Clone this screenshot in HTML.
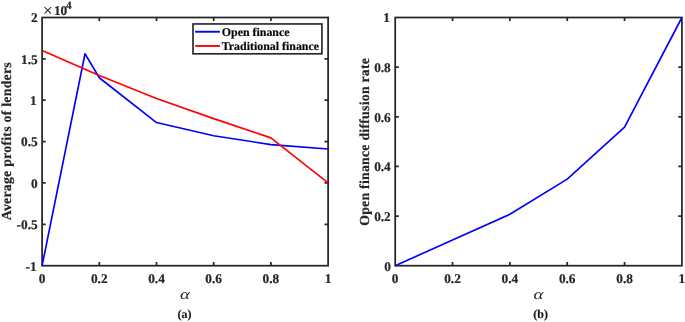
<!DOCTYPE html>
<html><head><meta charset="utf-8"><title>Figure</title>
<style>
html,body{margin:0;padding:0;background:#fff;}
svg{display:block;}
text{text-rendering:geometricPrecision;font-family:"Liberation Serif","Times New Roman",serif;font-weight:bold;fill:#262626;stroke:#262626;stroke-width:0.2px;}
.tk{font-size:13.33px;}
.lb{font-size:13.8px;}
.lg{font-size:11.9px;fill:#000;}
.cap{font-size:12px;fill:#1a1a1a;}
.al{font-size:14.67px;font-style:italic;font-weight:normal;stroke:none;}
</style></head><body>
<svg width="685" height="322" viewBox="0 0 685 322">
<rect width="685" height="322" fill="#fff"/>

<g stroke="#262626" stroke-width="1.75" fill="none" stroke-linecap="butt"><rect x="42.10" y="17.50" width="286.00" height="248.20"/><path d="M99.30 265.70v-3.60 M99.30 17.50v3.60"/><path d="M156.50 265.70v-3.60 M156.50 17.50v3.60"/><path d="M213.70 265.70v-3.60 M213.70 17.50v3.60"/><path d="M270.90 265.70v-3.60 M270.90 17.50v3.60"/><path d="M42.10 58.87h3.60 M328.10 58.87h-3.60"/><path d="M42.10 100.23h3.60 M328.10 100.23h-3.60"/><path d="M42.10 141.60h3.60 M328.10 141.60h-3.60"/><path d="M42.10 182.97h3.60 M328.10 182.97h-3.60"/><path d="M42.10 224.33h3.60 M328.10 224.33h-3.60"/></g>

<g stroke="#262626" stroke-width="1.75" fill="none" stroke-linecap="butt"><rect x="395.20" y="17.50" width="286.70" height="248.20"/><path d="M452.54 265.70v-3.60 M452.54 17.50v3.60"/><path d="M509.88 265.70v-3.60 M509.88 17.50v3.60"/><path d="M567.22 265.70v-3.60 M567.22 17.50v3.60"/><path d="M624.56 265.70v-3.60 M624.56 17.50v3.60"/><path d="M395.20 216.06h3.60 M681.90 216.06h-3.60"/><path d="M395.20 166.42h3.60 M681.90 166.42h-3.60"/><path d="M395.20 116.78h3.60 M681.90 116.78h-3.60"/><path d="M395.20 67.14h3.60 M681.90 67.14h-3.60"/></g>

<g fill="none" stroke-width="1.65" stroke-linejoin="round" stroke-linecap="butt">
<polyline stroke="#0000ff" points="42.10,265.70 85.00,53.74 99.30,77.73 156.50,122.57 213.70,135.73 270.90,144.58 328.10,149.05"/>
<polyline stroke="#ff0000" points="42.10,50.59 99.30,75.41 156.50,98.41 213.70,118.60 270.90,137.88 328.10,182.97"/>
<polyline stroke="#0000ff" points="395.20,265.70 452.54,240.01 509.88,214.32 567.22,179.08 624.56,127.20 681.90,17.50"/>
</g>

<text class="tk" x="42.10" y="282.5" text-anchor="middle">0</text>
<text class="tk" x="395.20" y="282.5" text-anchor="middle">0</text>
<text class="tk" x="99.30" y="282.5" text-anchor="middle">0.2</text>
<text class="tk" x="452.54" y="282.5" text-anchor="middle">0.2</text>
<text class="tk" x="156.50" y="282.5" text-anchor="middle">0.4</text>
<text class="tk" x="509.88" y="282.5" text-anchor="middle">0.4</text>
<text class="tk" x="213.70" y="282.5" text-anchor="middle">0.6</text>
<text class="tk" x="567.22" y="282.5" text-anchor="middle">0.6</text>
<text class="tk" x="270.90" y="282.5" text-anchor="middle">0.8</text>
<text class="tk" x="624.56" y="282.5" text-anchor="middle">0.8</text>
<text class="tk" x="328.10" y="282.5" text-anchor="middle">1</text>
<text class="tk" x="681.90" y="282.5" text-anchor="middle">1</text>
<text class="tk" x="37.7" y="22.30" text-anchor="end">2</text>
<text class="tk" x="37.7" y="63.67" text-anchor="end">1.5</text>
<text class="tk" x="36.7" y="105.03" text-anchor="end">1</text>
<text class="tk" x="37.7" y="146.40" text-anchor="end">0.5</text>
<text class="tk" x="37.7" y="187.77" text-anchor="end">0</text>
<text class="tk" x="37.7" y="229.13" text-anchor="end">-0.5</text>
<text class="tk" x="36.7" y="270.50" text-anchor="end">-1</text>
<text class="tk" x="390.8" y="270.50" text-anchor="end">0</text>
<text class="tk" x="390.8" y="220.86" text-anchor="end">0.2</text>
<text class="tk" x="390.8" y="171.22" text-anchor="end">0.4</text>
<text class="tk" x="390.8" y="121.58" text-anchor="end">0.6</text>
<text class="tk" x="390.8" y="71.94" text-anchor="end">0.8</text>
<text class="tk" x="389.9" y="22.30" text-anchor="end">1</text>


<text x="43.0" y="16.2" style="font-size:17px;font-weight:normal">×</text><text class="tk" x="53.9" y="14.7">10</text><text x="65.9" y="8.8" style="font-size:11.2px">4</text>

<text class="al" transform="translate(185.0 299.3) scale(1.28 1)" text-anchor="middle">α</text>
<text class="al" transform="translate(538.5 299.3) scale(1.28 1)" text-anchor="middle">α</text>
<text class="lb" transform="translate(11.4 220.3) rotate(-90)" textLength="158" lengthAdjust="spacing">Average profits of lenders</text>
<text class="lb" transform="translate(369.2 225.8) rotate(-90)" textLength="167.8" lengthAdjust="spacing">Open finance diffusion rate</text>

<text class="cap" x="184.5" y="318.2" text-anchor="middle">(a)</text>
<text class="cap" x="540.7" y="318.2" text-anchor="middle">(b)</text>

<rect x="193.0" y="23.95" width="128.9" height="29.85" fill="#fff" stroke="#262626" stroke-width="1.65"/>
<path d="M195.2 31.75H219.9" stroke="#0000ff" stroke-width="1.9"/>
<path d="M195.2 45.95H219.9" stroke="#ff0000" stroke-width="1.9"/>
<text class="lg" x="221.8" y="36.3">Open finance</text>
<text class="lg" x="221.8" y="50.3">Traditional finance</text>

</svg></body></html>
